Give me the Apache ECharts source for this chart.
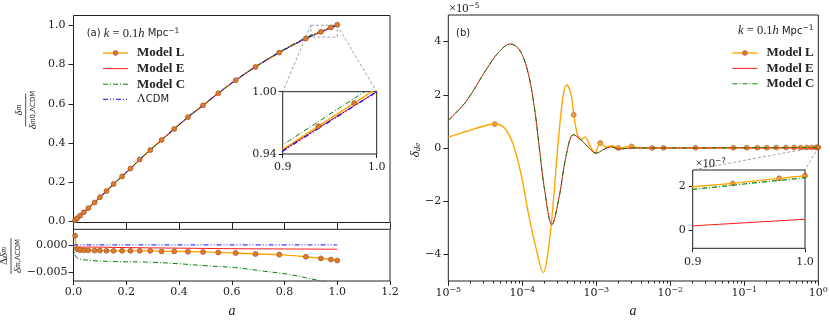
<!DOCTYPE html>
<html>
<head>
<meta charset="utf-8">
<script src="https://cdn.jsdelivr.net/npm/echarts@6/dist/echarts.min.js"></script>
<style>
  html, body { margin: 0; padding: 0; background: #fff; }
  #chart { width: 830px; height: 320px; }
</style>
</head>
<body>
<div id="chart"></div>
<script>
// (a) delta_m / delta_m0,LCDM against a
const mainA    = [0, 0.006, 0.014, 0.025, 0.039, 0.056, 0.080, 0.100, 0.125, 0.152, 0.184, 0.216, 0.251, 0.291, 0.334, 0.382, 0.434, 0.491, 0.549, 0.615, 0.690, 0.780, 0.881, 0.938, 0.976, 1.0];
const mainLCDM = [0, 0.007, 0.017, 0.030, 0.047, 0.068, 0.097, 0.124, 0.155, 0.191, 0.230, 0.270, 0.316, 0.364, 0.416, 0.472, 0.532, 0.592, 0.654, 0.720, 0.788, 0.861, 0.932, 0.9646, 0.9863, 1.0];
const mainL    = [0, 0.007, 0.017, 0.030, 0.047, 0.068, 0.097, 0.124, 0.155, 0.191, 0.230, 0.270, 0.316, 0.364, 0.416, 0.472, 0.532, 0.592, 0.654, 0.720, 0.788, 0.861, 0.933, 0.9668, 0.989, 1.003];
const mainE    = [0, 0.007, 0.017, 0.030, 0.047, 0.068, 0.097, 0.124, 0.155, 0.191, 0.230, 0.270, 0.316, 0.364, 0.416, 0.472, 0.532, 0.592, 0.654, 0.720, 0.788, 0.861, 0.9325, 0.9652, 0.9865, 1.0];
const mainC    = [0, 0.007, 0.017, 0.030, 0.047, 0.068, 0.097, 0.124, 0.155, 0.191, 0.230, 0.270, 0.316, 0.364, 0.416, 0.472, 0.532, 0.592, 0.655, 0.721, 0.790, 0.864, 0.9375, 0.9712, 0.9935, 1.0076];

// (a) lower panel: relative difference to LCDM
const ratioLA = [0.006, 0.014, 0.025, 0.039, 0.056, 0.080, 0.100, 0.125, 0.152, 0.184, 0.216, 0.251, 0.291, 0.334, 0.382, 0.434, 0.491, 0.549, 0.615, 0.690, 0.780, 0.881, 0.938, 0.976, 1.0];
const ratioLV = [0.0017, -0.0008, -0.00095, -0.001, -0.001, -0.00105, -0.00105, -0.00108, -0.0011, -0.0011, -0.0011, -0.0011, -0.0011, -0.0012, -0.0012, -0.00125, -0.0013, -0.0014, -0.0015, -0.0017, -0.0018, -0.0022, -0.0025, -0.0027, -0.0029];
const ratioEA = [0, 0.004, 0.05, 0.2, 0.4, 0.6, 0.8, 1.0];
const ratioEV = [-0.0003, -0.0004, -0.0004, -0.0005, -0.0006, -0.0007, -0.00075, -0.0008];
const ratioCA = [0, 0.002, 0.004, 0.008, 0.013, 0.03, 0.07, 0.16, 0.29, 0.40, 0.51, 0.61, 0.71, 0.82, 0.89, 0.95, 1.0];
const ratioCV = [0, -0.0009, -0.0016, -0.0021, -0.0024, -0.0027, -0.0029, -0.0031, -0.0032, -0.0035, -0.0039, -0.0042, -0.0048, -0.0055, -0.0062, -0.0068, -0.0074];
const ratioLCDMA = [0, 1.0];
const ratioLCDMV = [0, 0];

// (b) delta_de against a (log)
const rightLA = [1e-5, 1.74e-5, 2.8e-5, 4.24e-5, 5.75e-5, 7.41e-5, 9.55e-5, 1.23e-4, 1.55e-4, 1.92e-4, 2.19e-4, 2.57e-4, 3.02e-4, 3.55e-4, 3.98e-4, 4.57e-4, 4.95e-4, 5.5e-4, 6.03e-4, 7.08e-4, 8.13e-4, 9.55e-4, 1.13e-3, 1.35e-3, 1.62e-3, 1.98e-3, 2.5e-3, 3.0e-3, 3.7e-3, 5.7e-3, 8.1e-3, 0.022, 0.071, 0.2, 0.5, 0.9, 0.9356, 0.977, 1.0];
const rightLV = [0.41e-5, 0.62e-5, 0.80e-5, 0.90e-5, 0.75e-5, 0.19e-5, -0.94e-5, -2.57e-5, -3.82e-5, -4.68e-5, -4.07e-5, -2.32e-5, 0.06e-5, 1.94e-5, 2.38e-5, 2.0e-5, 1.25e-5, 0.56e-5, 0.31e-5, 0.41e-5, 0.12e-5, -0.19e-5, 0.19e-5, 0.04e-5, 0.09e-5, 0, 0.04e-5, 0.06e-5, 0.01e-5, 0.3e-7, 0.5e-7, 0.8e-7, 1.2e-7, 1.4e-7, 1.62e-7, 1.97e-7, 2.12e-7, 2.35e-7, 2.47e-7];
const rightMarkA = [4.24e-5, 4.95e-4, 1.13e-3, 1.98e-3, 3.0e-3, 5.7e-3, 8.1e-3, 0.022, 0.071, 0.108, 0.150, 0.201, 0.270, 0.366, 0.470, 0.578, 0.697, 0.815, 0.9356, 0.977, 1.0];
const rightMarkV = [0.90e-5, 1.25e-5, 0.19e-5, 0, 0.06e-5, 0.3e-7, 0.5e-7, 0.8e-7, 1.2e-7, 1.3e-7, 1.35e-7, 1.4e-7, 1.45e-7, 1.5e-7, 1.6e-7, 1.68e-7, 1.78e-7, 1.89e-7, 2.12e-7, 2.35e-7, 2.47e-7];
const rightEA = [1e-5, 1.74e-5, 3.24e-5, 4.9e-5, 6.9e-5, 9.1e-5, 1.17e-4, 1.45e-4, 1.7e-4, 2.0e-4, 2.51e-4, 3.16e-4, 3.89e-4, 4.9e-4, 5.9e-4, 7.6e-4, 1.0e-3, 1.29e-3, 1.58e-3, 2.04e-3, 3.0e-3, 0.01, 0.1, 0.5, 0.9, 1.0];
const rightEV = [1.04e-5, 1.75e-5, 2.94e-5, 3.63e-5, 3.91e-5, 3.70e-5, 2.94e-5, 1.56e-5, 0, -1.57e-5, -2.88e-5, -1.82e-5, -0.32e-5, 0.50e-5, 0.37e-5, 0.06e-5, -0.19e-5, -0.04e-5, 0.04e-5, -0.04e-5, 0, 0, 0, 0.05e-7, 0.19e-7, 0.49e-7];
const rightCV = [1.04e-5, 1.75e-5, 2.94e-5, 3.63e-5, 3.91e-5, 3.70e-5, 2.94e-5, 1.56e-5, 0, -1.57e-5, -2.88e-5, -1.82e-5, -0.32e-5, 0.50e-5, 0.37e-5, 0.06e-5, -0.19e-5, -0.04e-5, 0.04e-5, -0.04e-5, 0, 0.4e-7, 1.0e-7, 1.5e-7, 1.85e-7, 2.38e-7];

// tick labels
const mainYTicks = [0, 0.2, 0.4, 0.6, 0.8, 1.0];
const ratioYTicks = [-0.005, 0];
const rightYTicks = [-4e-5, -2e-5, 0, 2e-5, 4e-5];
const decades = [1e-5, 1e-4, 1e-3, 1e-2, 1e-1, 1];
const insetXTicks = [0.9, 1.0];
const insetAYTicks = [0.94, 1.0];
const insetBYTicks = [0, 2e-7];

const minorTicks = [];
decades.slice(0, -1).forEach(d => { for (let m = 2; m < 10; m++) minorTicks.push(m * d); });

const INK = '#222';
const ORANGE = '#ffa500', RED = '#ff1a1a', GREEN = '#0a800a', BLUE = '#1010ff';
const MFILL = '#dc7b30', MEDGE = '#9a4a1a';
const DASHDOT = [5, 2, 1, 2];
const DASHDOTDOT = [5, 2, 1, 2, 1, 2];
const TICKFONT = { fontFamily: 'DejaVu Serif', fontSize: 11, color: INK };

const pts = (xs, ys) => xs.map((x, i) => [x, ys[i]]);
const minus = s => s.replace('-', '\u2212');

function tick(len, custom) {
  const t = { show: true, inside: false, length: len, lineStyle: { color: INK, width: 1 } };
  if (custom) t.customValues = custom;
  return t;
}
function label(margin, formatter, custom) {
  const l = Object.assign({ show: true, margin, formatter }, TICKFONT);
  if (custom) l.customValues = custom;
  return l;
}
function axis(o) {
  return Object.assign({
    axisLine: { show: false, onZero: false }, splitLine: { show: false }, axisPointer: { show: false }
  }, o);
}
function grid(left, top, width, height, bg) {
  return {
    left, top, width, height, show: true, borderColor: INK, borderWidth: 1,
    backgroundColor: bg || 'transparent', containLabel: false, outerBoundsMode: 'none'
  };
}

const powLabel = v => {
  const e = Math.round(Math.log10(v));
  return '{b|10}{s|' + minus(String(e)) + '}';
};

function lineSeries(name, xi, yi, data, color, width, dash, extra) {
  return Object.assign({
    name, type: 'line', xAxisIndex: xi, yAxisIndex: yi, data,
    symbol: 'none', smooth: 0.35, clip: true, silent: true,
    lineStyle: { color, width, type: dash || 'solid' },
    itemStyle: { color },
    emphasis: { disabled: true }
  }, extra || {});
}
const markerStyle = { color: MFILL, borderColor: MEDGE, borderWidth: 0.6 };
const withMarkers = { symbol: 'circle', symbolSize: 5, showSymbol: true, itemStyle: markerStyle };

const chart = echarts.init(document.getElementById('chart'), null, { renderer: 'canvas' });

const legendText = {
  fontFamily: 'Liberation Serif', fontSize: 13, color: INK,
  rich: {
    b: { fontFamily: 'Liberation Serif', fontWeight: 'bold', fontSize: 13, lineHeight: 14, padding: [0, 0, 0, 4], color: INK },
    l: { fontFamily: 'Liberation Serif', fontSize: 12, lineHeight: 14, padding: [0, 0, 0, 4], color: INK },
    s: { fontFamily: 'DejaVu Sans', fontSize: 10, lineHeight: 14, color: INK }
  }
};
const legendFmt = n => n === '\u039BCDM' ? '{l|\u039B}{s|CDM}' : '{b|' + n + '}';
const legendItems = [
  { name: 'Model L', lineStyle: { width: 1.4 }, itemStyle: { borderWidth: 0.6 } },
  { name: 'Model E', lineStyle: { width: 1 }, itemStyle: { opacity: 0 } },
  { name: 'Model C', lineStyle: { width: 1 }, itemStyle: { opacity: 0 } },
  { name: '\u039BCDM', lineStyle: { width: 1 }, itemStyle: { opacity: 0 } }
];

const option = {
  animation: false,
  backgroundColor: '#fff',
  grid: [
    grid(73.5, 15.5, 316.5, 207),
    grid(73.5, 229.3, 316.5, 51.7),
    grid(448.3, 15, 370, 266),
    grid(282.7, 91.7, 94, 62.3, '#fff'),
    grid(692.7, 170, 112.3, 78.3, '#fff')
  ],
  xAxis: [
    axis({ gridIndex: 0, position: 'bottom', type: 'value', min: 0, max: 1.2, interval: 0.2, axisTick: tick(6.6), axisLabel: { show: false } }),
    axis({ gridIndex: 1, position: 'bottom', type: 'value', min: 0, max: 1.2, interval: 0.2, axisTick: tick(4), axisLabel: label(6, v => v.toFixed(1)) }),
    axis({ gridIndex: 2, position: 'bottom', type: 'log', logBase: 10, min: 1e-5, max: 1, splitNumber: 5, axisTick: tick(4.7),
      axisLabel: Object.assign(label(5, powLabel), {
        rich: {
          b: { fontFamily: 'DejaVu Serif', fontSize: 11, lineHeight: 15, color: INK },
          s: { fontFamily: 'DejaVu Serif', fontSize: 8, lineHeight: 9, verticalAlign: 'top', color: INK }
        }
      }) }),
    axis({ gridIndex: 2, position: 'bottom', type: 'log', logBase: 10, min: 1e-5, max: 1, axisTick: tick(2.5, minorTicks), axisLabel: { show: false } }),
    axis({ gridIndex: 3, position: 'bottom', type: 'value', min: 0.9, max: 1.0, axisTick: tick(4, insetXTicks), axisLabel: label(8, v => v.toFixed(1), insetXTicks) }),
    axis({ gridIndex: 4, position: 'bottom', type: 'value', min: 0.9, max: 1.0, axisTick: tick(4, insetXTicks), axisLabel: label(8, v => v.toFixed(1), insetXTicks) })
  ],
  yAxis: [
    axis({ gridIndex: 0, position: 'left', type: 'value', min: -0.005, max: 1.05, axisTick: tick(5, mainYTicks), axisLabel: label(8, v => v.toFixed(1), mainYTicks) }),
    axis({ gridIndex: 1, position: 'left', type: 'value', min: -0.0067, max: 0.0029, axisTick: tick(5, ratioYTicks),
      axisLabel: label(6, v => (v < -1e-9 ? '\u2212' : '') + Math.abs(v).toFixed(3), ratioYTicks) }),
    axis({ gridIndex: 2, position: 'left', type: 'value', min: -5e-5, max: 5e-5, axisTick: tick(5, rightYTicks),
      axisLabel: label(7, v => minus(String(Math.round(v / 1e-5))), rightYTicks) }),
    axis({ gridIndex: 3, position: 'left', type: 'value', min: 0.94, max: 1.0, axisTick: tick(4, insetAYTicks), axisLabel: label(6, v => v.toFixed(2), insetAYTicks) }),
    axis({ gridIndex: 4, position: 'left', type: 'value', min: -0.83e-7, max: 2.73e-7, axisTick: tick(4, insetBYTicks),
      axisLabel: label(7, v => String(Math.round(v / 1e-7)), insetBYTicks) })
  ],
  legend: [
    {
      orient: 'vertical', left: 102.3, top: 46.5, padding: 0, itemWidth: 25, itemHeight: 6, itemGap: 2.6,
      selectedMode: false, data: legendItems,
      textStyle: legendText, formatter: legendFmt
    },
    {
      orient: 'vertical', left: 731.7, top: 46.5, padding: 0, itemWidth: 25, itemHeight: 6, itemGap: 2.4,
      selectedMode: false, data: legendItems.slice(0, 3),
      textStyle: legendText, formatter: legendFmt
    }
  ],
  series: [
    // (a) main
    lineSeries('Model L', 0, 0, pts(mainA, mainL).slice(1), ORANGE, 1.4, null, withMarkers),
    lineSeries('Model E', 0, 0, pts(mainA, mainE), RED, 1),
    lineSeries('Model C', 0, 0, pts(mainA, mainC), GREEN, 1, DASHDOT),
    lineSeries('\u039BCDM', 0, 0, pts(mainA, mainLCDM), BLUE, 1, DASHDOTDOT),
    // (a) lower
    lineSeries('Model L', 1, 1, pts(ratioLA, ratioLV), ORANGE, 1.4, null, withMarkers),
    lineSeries('Model E', 1, 1, pts(ratioEA, ratioEV), RED, 1),
    lineSeries('Model C', 1, 1, pts(ratioCA, ratioCV), GREEN, 1, DASHDOT),
    lineSeries('\u039BCDM', 1, 1, pts(ratioLCDMA, ratioLCDMV), BLUE, 1, DASHDOTDOT),
    // (b) main
    lineSeries('Model L', 2, 2, pts(rightLA, rightLV), ORANGE, 1.4, null, { symbol: 'circle', symbolSize: 5, showSymbol: false, itemStyle: markerStyle }),
    { name: 'Model L points', type: 'scatter', xAxisIndex: 2, yAxisIndex: 2, data: pts(rightMarkA, rightMarkV),
      symbol: 'circle', symbolSize: 5, itemStyle: markerStyle, silent: true, clip: true },
    lineSeries('Model E', 2, 2, pts(rightEA, rightEV), RED, 1),
    lineSeries('Model C', 2, 2, pts(rightEA, rightCV), GREEN, 1, DASHDOT),
    // (a) inset
    lineSeries('Model L', 4, 3, pts(mainA, mainL).slice(1), ORANGE, 1.4, null, Object.assign({ smooth: false }, withMarkers)),
    lineSeries('Model E', 4, 3, pts(mainA, mainE), RED, 1, null, { smooth: false }),
    lineSeries('Model C', 4, 3, pts(mainA, mainC), GREEN, 1, DASHDOT, { smooth: false }),
    lineSeries('\u039BCDM', 4, 3, pts(mainA, mainLCDM), BLUE, 1.4, DASHDOTDOT, { smooth: false }),
    // (b) inset
    lineSeries('Model L', 5, 4, pts(rightLA, rightLV), ORANGE, 1.4, null, { smooth: false }),
    { name: 'Model L points', type: 'scatter', xAxisIndex: 5, yAxisIndex: 4, data: pts(rightMarkA, rightMarkV),
      symbol: 'circle', symbolSize: 5, itemStyle: markerStyle, silent: true, clip: true },
    lineSeries('Model E', 5, 4, pts(rightEA, rightEV), RED, 1, null, { smooth: false }),
    lineSeries('Model C', 5, 4, pts(rightEA, rightCV), GREEN, 1.2, DASHDOT, { smooth: false })
  ]
};
chart.setOption(option);

// zoom boxes, connector lines and text annotations
const px = (xi, yi, v) => chart.convertToPixel({ xAxisIndex: xi, yAxisIndex: yi }, v);
const dash = { stroke: '#8a8a8a', lineWidth: 0.8, lineDash: [3, 2], fill: 'none' };
const aTL = px(0, 0, [0.9, 1.0]), aBR = px(0, 0, [1.0, 0.94]), aTR = px(0, 0, [1.0, 1.0]);
const aiTL = px(4, 3, [0.9, 1.0]), aiTR = px(4, 3, [1.0, 1.0]);
const bTL = px(2, 2, [0.9, 2.73e-7]), bBR = px(2, 2, [1.0, -0.83e-7]), bTR = px(2, 2, [1.0, 2.73e-7]);
const biTL = px(5, 4, [0.9, 2.73e-7]), biTR = px(5, 4, [1.0, 2.73e-7]);

const mathRich = {
  i: { fontFamily: 'Liberation Serif', fontStyle: 'italic', fontSize: 12.5, color: INK },
  n: { fontFamily: 'Liberation Serif', fontSize: 12.5, color: INK },
  s: { fontFamily: 'DejaVu Sans', fontSize: 10, color: INK },
  sup: { fontFamily: 'DejaVu Sans', fontSize: 7.5, verticalAlign: 'top', lineHeight: 8, color: INK }
};
function txt(x, y, text, align, rich, extra) {
  return Object.assign({ type: 'text', x, y, silent: true,
    style: { text, align: align || 'left', verticalAlign: 'middle', rich: rich || mathRich, fill: INK, fontSize: 12 } }, extra || {});
}
function frac(x, y, num, den, len, rich) {
  return { type: 'group', x, y, rotation: Math.PI / 2, silent: true, children: [
    { type: 'text', style: { text: num, x: 0, y: -1.5, align: 'center', verticalAlign: 'bottom', rich, fill: INK } },
    { type: 'line', shape: { x1: -len / 2, y1: 0, x2: len / 2, y2: 0 }, style: { stroke: INK, lineWidth: 0.8 } },
    { type: 'text', style: { text: den, x: 0, y: 1.5, align: 'center', verticalAlign: 'top', rich, fill: INK } }
  ] };
}
const fracRich = {
  d: { fontFamily: 'Liberation Serif', fontStyle: 'italic', fontSize: 11, color: INK },
  D: { fontFamily: 'Liberation Serif', fontSize: 11, color: INK },
  m: { fontFamily: 'Liberation Serif', fontStyle: 'italic', fontSize: 8, color: INK },
  t: { fontFamily: 'DejaVu Sans', fontSize: 7, color: INK }
};

chart.setOption({
  graphic: [
    { type: 'rect', shape: { x: aTL[0], y: aTL[1], width: aBR[0] - aTL[0], height: aBR[1] - aTL[1] }, style: dash, silent: true },
    { type: 'line', shape: { x1: aTL[0], y1: aTL[1], x2: aiTL[0], y2: aiTL[1] }, style: dash, silent: true },
    { type: 'line', shape: { x1: aTR[0], y1: aTR[1], x2: aiTR[0], y2: aiTR[1] }, style: dash, silent: true },
    { type: 'rect', shape: { x: bTL[0], y: bTL[1], width: bBR[0] - bTL[0], height: Math.max(1, bBR[1] - bTL[1]) }, style: dash, silent: true },
    { type: 'line', shape: { x1: bTL[0], y1: bTL[1], x2: biTL[0], y2: biTL[1] }, style: dash, silent: true },
    { type: 'line', shape: { x1: bTR[0], y1: bTR[1], x2: biTR[0], y2: biTR[1] }, style: dash, silent: true },

    txt(86.7, 33.5, '{s|(a) }{i|k}{n| = 0.1}{i|h}{s| Mpc}{sup|\u22121}'),
    txt(813.5, 31, '{i|k}{n| = 0.1}{i|h}{s| Mpc}{sup|\u22121}', 'right'),
    txt(456, 33, '{s|(b)}'),
    txt(449, 9, '{n|\u00D710}{sup|\u22125}'),
    txt(695.5, 164, '{n|\u00D710}{sup|\u22127}'),
    txt(232, 311, '{i|a}', 'center', { i: { fontFamily: 'Liberation Serif', fontStyle: 'italic', fontSize: 14, color: INK } }),
    txt(633, 311, '{i|a}', 'center', { i: { fontFamily: 'Liberation Serif', fontStyle: 'italic', fontSize: 14, color: INK } }),
    txt(416, 150, '{i|\u03B4}{s|de}', 'center', {
      i: { fontFamily: 'Liberation Serif', fontStyle: 'italic', fontSize: 13, color: INK },
      s: { fontFamily: 'Liberation Serif', fontStyle: 'italic', fontSize: 9, verticalAlign: 'bottom', color: INK }
    }, { rotation: Math.PI / 2 }),
    frac(25.7, 110, '{d|\u03B4}{m|m}', '{d|\u03B4}{m|m}{t|0,\u039BCDM}', 33, fracRich),
    frac(11, 256, '{D|\u0394}{d|\u03B4}{m|m}', '{d|\u03B4}{m|m}{t|,\u039BCDM}', 36, fracRich)
  ]
});
</script>
</body>
</html>
